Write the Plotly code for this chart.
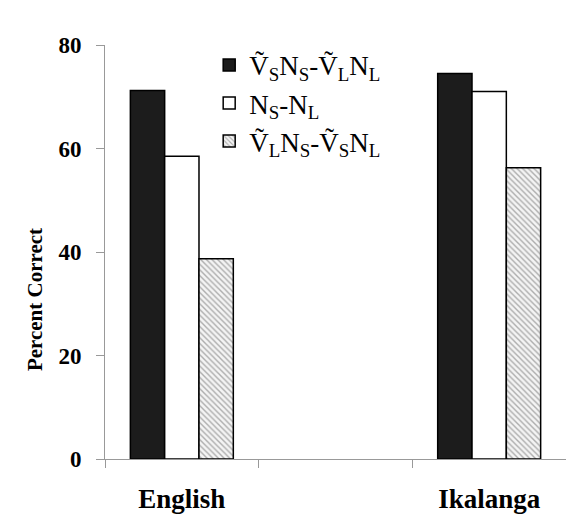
import plotly.graph_objects as go

# Categories (middle slot left empty to separate the two languages)
categories = ["English", " ", "Ikalanga"]
languages = ["English", "Ikalanga"]

# Percent correct per condition
vs_ns_vl_nl = [71.2, 74.5]
ns_nl = [58.5, 71.0]
vl_ns_vs_nl = [38.7, 56.3]

series_names = [
    "V\u0303<sub>S</sub>N<sub>S</sub>-V\u0303<sub>L</sub>N<sub>L</sub>",
    "N<sub>S</sub>-N<sub>L</sub>",
    "V\u0303<sub>L</sub>N<sub>S</sub>-V\u0303<sub>S</sub>N<sub>L</sub>",
]

y_title = "Percent Correct"

serif = "Liberation Serif, Times New Roman, serif"

fig = go.Figure()
fig.add_trace(go.Bar(
    x=languages, y=vs_ns_vl_nl, name=series_names[0],
    marker=dict(color="#1c1c1c", line=dict(color="black", width=1.5)),
))
fig.add_trace(go.Bar(
    x=languages, y=ns_nl, name=series_names[1],
    marker=dict(color="white", line=dict(color="black", width=1.5)),
))
fig.add_trace(go.Bar(
    x=languages, y=vl_ns_vs_nl, name=series_names[2],
    marker=dict(
        color="white",
        line=dict(color="black", width=1.5),
        pattern=dict(shape="\\", fgcolor="#666666", bgcolor="#f4f4f4",
                     size=4, solidity=0.35),
    ),
))

# Y-axis title placed as a rotated annotation so it can sit below centre
fig.add_annotation(
    text=y_title, textangle=-90,
    xref="paper", yref="paper", x=-0.152, y=0.386,
    xanchor="center", yanchor="middle", showarrow=False,
    font=dict(family=serif, size=21, color="black", weight="bold"),
)

fig.update_layout(
    width=566, height=531,
    margin=dict(l=105, r=0, t=45, b=72),
    paper_bgcolor="white", plot_bgcolor="white",
    barmode="group", bargap=0.33, bargroupgap=0,
    font=dict(family=serif, color="black"),
    legend=dict(
        x=0.226, y=1.01, xanchor="left", yanchor="top",
        font=dict(family=serif, size=27, color="black"),
        bgcolor="rgba(0,0,0,0)", itemwidth=30,
    ),
    xaxis=dict(
        type="category", categoryorder="array", categoryarray=categories,
        range=[-0.5, 2.5], tickson="boundaries",
        ticks="outside", ticklen=8, tickcolor="#999999",
        showline=True, linecolor="#999999", linewidth=1,
        ticklabelstandoff=16,
        tickfont=dict(family=serif, size=27, color="black", weight="bold"),
        showgrid=False, zeroline=False,
    ),
    yaxis=dict(
        range=[0, 80], dtick=20,
        ticks="outside", ticklen=8, tickcolor="#999999",
        showline=True, linecolor="#999999", linewidth=1,
        ticklabelstandoff=10,
        tickfont=dict(family=serif, size=23, color="black", weight="bold"),
        showgrid=False, zeroline=False,
    ),
)

fig.write_html("out.html")
